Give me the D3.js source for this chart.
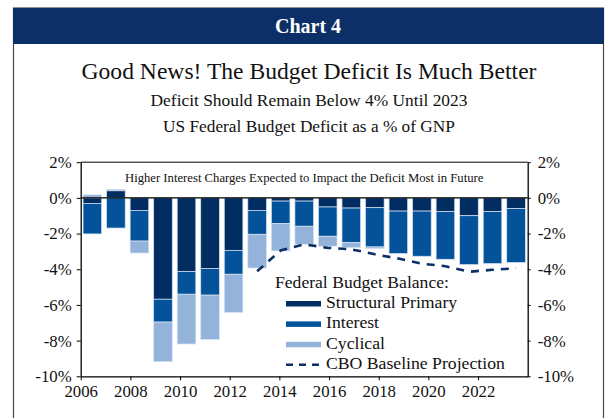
<!DOCTYPE html>
<html>
<head>
<meta charset="utf-8">
<script src="https://cdn.jsdelivr.net/npm/d3@7/dist/d3.min.js"></script>
<style>
  html, body { margin: 0; padding: 0; background: #fff; }
  svg { display: block; font-family: "Liberation Serif", "DejaVu Serif", serif; }
</style>
</head>
<body>
<svg id="chart" width="607" height="418"></svg>
<script>
// Fiscal years shown as bars (band scale) and the axis years (linear scale)
const years = [2006, 2007, 2008, 2009, 2010, 2011, 2012, 2013, 2014, 2015,
               2016, 2017, 2018, 2019, 2020, 2021, 2022, 2023, 2024];

// Components of the federal budget balance, % of GNP
const structuralPrimary = [-0.31, 0.40, -0.70, -5.68, -4.13, -3.96, -2.94, -0.70, -0.18, -0.18,
                           -0.51, -0.57, -0.55, -0.74, -0.74, -0.77, -1.00, -0.77, -0.60];
const interest = [-1.71, -1.69, -1.72, -1.28, -1.27, -1.49, -1.34, -1.34, -1.26, -1.41,
                  -1.64, -1.94, -2.20, -2.38, -2.53, -2.67, -2.74, -2.91, -3.02];
const cyclical = [0.17, 0.08, -0.67, -2.22, -2.79, -2.48, -2.14, -1.89, -1.53, -1.01,
                  -0.56, -0.28, -0.09, 0, 0, 0, 0, 0, 0];

// CBO baseline projection of the total balance
const cboYears = [2013, 2014, 2015, 2016, 2017, 2018, 2019, 2020, 2021, 2022, 2023, 2024];
const cboBaseline = [-4.11, -2.95, -2.60, -2.80, -2.88, -3.16, -3.40, -3.69, -3.83, -4.14, -4.03, -3.94];

// Axis ticks
const yTicks = [2, 0, -2, -4, -6, -8, -10];
const xTicks = [2006, 2008, 2010, 2012, 2014, 2016, 2018, 2020, 2022];

const seriesKeys = ["Structural Primary", "Interest", "Cyclical"];
const colors = {
  "Structural Primary": "#022d63",
  "Interest": "#04539a",
  "Cyclical": "#94b3da"
};
const navy = "#0b2f66";

const svg = d3.select("#chart");

// Outer frame and header band
svg.append("rect").attr("x", 13.5).attr("y", 8).attr("width", 590).attr("height", 420)
  .attr("fill", "#fff").attr("stroke", "#4a4a4a").attr("stroke-width", 1.2);
svg.append("rect").attr("x", 13).attr("y", 8).attr("width", 591).attr("height", 36)
  .attr("fill", navy);
svg.append("text").attr("x", 308).attr("y", 33).attr("text-anchor", "middle")
  .attr("fill", "#fff").attr("font-size", 20).attr("font-weight", "bold").text("Chart 4");

svg.append("text").attr("x", 309).attr("y", 79).attr("text-anchor", "middle")
  .attr("fill", "#111").attr("font-size", 23.6).text("Good News! The Budget Deficit Is Much Better");
svg.append("text").attr("x", 309).attr("y", 106).attr("text-anchor", "middle")
  .attr("fill", "#111").attr("font-size", 17.4).text("Deficit Should Remain Below 4% Until 2023");
svg.append("text").attr("x", 309).attr("y", 132).attr("text-anchor", "middle")
  .attr("fill", "#111").attr("font-size", 17.3).text("US Federal Budget Deficit as a % of GNP");

// Plot area
const plotLeft = 80.7, plotRight = 527.7, plotTop = 162.2, plotBottom = 376.3;

const y = d3.scaleLinear().domain([-10, 2]).range([plotBottom, plotTop]);
const xBand = d3.scaleBand().domain(years).range([plotLeft, plotRight])
  .paddingInner(0.21).paddingOuter(0.1);
const xYear = d3.scaleLinear().domain([2006, 2024]).range([plotLeft, plotRight]);

// Stacked bars (positive parts go above zero, negative below)
const rows = years.map((yr, i) => ({
  year: yr,
  "Structural Primary": structuralPrimary[i],
  "Interest": interest[i],
  "Cyclical": cyclical[i]
}));
const stacked = d3.stack().keys(seriesKeys).offset(d3.stackOffsetDiverging)(rows);

svg.append("g").selectAll("g").data(stacked).join("g")
  .attr("fill", d => colors[d.key])
  .selectAll("rect").data(d => d.filter(p => p[1] - p[0] !== 0)).join("rect")
  .attr("x", d => xBand(d.data.year))
  .attr("width", xBand.bandwidth())
  .attr("y", d => y(Math.max(d[0], d[1])))
  .attr("height", d => Math.abs(y(d[0]) - y(d[1])))
  .attr("stroke", "#d6e2f1").attr("stroke-width", 0.7);

// Zero line
svg.append("line").attr("x1", plotLeft).attr("x2", plotRight)
  .attr("y1", y(0)).attr("y2", y(0)).attr("stroke", "#000").attr("stroke-width", 1.2);

// CBO baseline projection
const line = d3.line()
  .x((d, i) => xBand(cboYears[i]) + xBand.bandwidth() / 2)
  .y(d => y(d));
svg.append("path").datum(cboBaseline).attr("d", line)
  .attr("fill", "none").attr("stroke", navy).attr("stroke-width", 2.6)
  .attr("stroke-dasharray", "8,7");

// Top border of the plot and annotation
svg.append("line").attr("x1", plotLeft).attr("x2", plotRight).attr("y1", plotTop).attr("y2", plotTop)
  .attr("stroke", "#000").attr("stroke-width", 1);
svg.append("text").attr("x", (plotLeft + plotRight) / 2).attr("y", 182).attr("text-anchor", "middle")
  .attr("font-size", 12.7).attr("fill", "#111")
  .text("Higher Interest Charges Expected to Impact the Deficit Most in Future");

// Axes
const fmt = d => d + "%";
const axisStyle = g => {
  g.selectAll(".domain").attr("stroke", "#000").attr("stroke-width", 1.3);
  g.selectAll(".tick line").attr("stroke", "#000").attr("stroke-width", 1);
  g.selectAll(".tick text").attr("fill", "#111").attr("font-size", 16.8)
    .attr("font-family", "Liberation Serif, serif");
};
svg.append("g").attr("transform", `translate(${plotLeft},0)`)
  .call(d3.axisLeft(y).tickValues(yTicks).tickFormat(fmt).tickSize(4).tickSizeOuter(0).tickPadding(5))
  .call(axisStyle);
svg.append("g").attr("transform", `translate(${plotRight},0)`)
  .call(d3.axisRight(y).tickValues(yTicks).tickFormat(fmt).tickSize(3).tickSizeOuter(0).tickPadding(7))
  .call(axisStyle);
svg.append("g").attr("transform", `translate(0,${plotBottom})`)
  .call(d3.axisBottom(xYear).tickValues(xTicks).tickFormat(d3.format("d")).tickSize(4).tickSizeOuter(0).tickPadding(5))
  .call(axisStyle);

// Legend
const lg = svg.append("g");
lg.append("text").attr("x", 275).attr("y", 288).attr("font-size", 17.6).attr("fill", "#111")
  .text("Federal Budget Balance:");
const legendItems = [
  { label: "Structural Primary", color: colors["Structural Primary"], dash: null },
  { label: "Interest", color: colors["Interest"], dash: null },
  { label: "Cyclical", color: colors["Cyclical"], dash: null },
  { label: "CBO Baseline Projection", color: navy, dash: "7,6" }
];
legendItems.forEach((it, i) => {
  const by = 308 + i * 20.4;
  if (it.dash) {
    lg.append("line").attr("x1", 286).attr("x2", 321).attr("y1", by - 4.5).attr("y2", by - 4.5)
      .attr("stroke", it.color).attr("stroke-width", 2.4).attr("stroke-dasharray", it.dash);
  } else {
    lg.append("rect").attr("x", 286).attr("y", by - 7).attr("width", 35).attr("height", 5.5)
      .attr("fill", it.color);
  }
  lg.append("text").attr("x", 326).attr("y", by).attr("font-size", 17.7).attr("fill", "#111")
    .text(it.label);
});
</script>
</body>
</html>
